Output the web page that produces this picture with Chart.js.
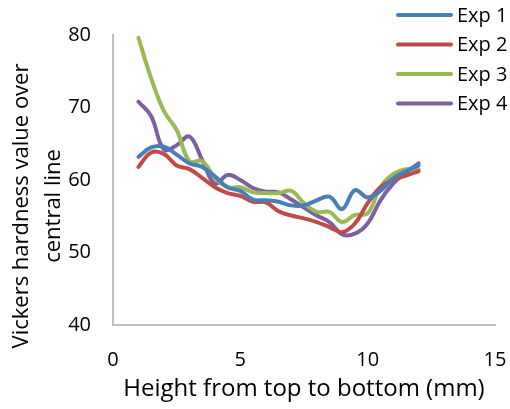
<!DOCTYPE html>
<html>
<head>
<meta charset="utf-8">
<script src="https://cdn.jsdelivr.net/npm/chart.js@4"></script>
<style>
  html, body { margin: 0; padding: 0; background: #fff; }
  #wrap { width: 510px; height: 409px; }
</style>
</head>
<body>
<div id="wrap"><canvas id="chart" width="510" height="409"></canvas></div>
<script>
// heights along the sample (mm), measured every half mm
const heights = [1, 1.5, 2, 2.5, 3, 3.5, 4, 4.5, 5, 5.5, 6, 6.5, 7, 7.5, 8, 8.5, 9, 9.5, 10, 10.5, 11, 11.5, 12]

// hardness readings for each experiment
const exp1 = [63.2, 64.5, 64.6, 63.5, 62.3, 61.8, 60.5, 59.0, 58.5, 57.3, 57.2, 57.0, 56.5, 56.5, 57.2, 57.7, 56.0, 58.6, 57.6, 58.5, 60.2, 61.2, 62.0]
const exp2 = [61.8, 63.8, 63.6, 62.0, 61.5, 60.3, 59.0, 58.2, 57.8, 57.0, 56.9, 55.7, 55.1, 54.7, 54.2, 53.5, 52.8, 54.0, 56.8, 59.0, 60.0, 60.6, 61.2]
const exp3 = [79.6, 74.0, 69.5, 66.9, 62.6, 62.6, 60.3, 59.0, 59.0, 58.3, 58.2, 58.2, 58.5, 56.8, 55.6, 55.6, 54.2, 55.2, 55.4, 59.0, 60.8, 61.5, 61.5]
const exp4 = [70.8, 68.8, 64.2, 64.8, 66.0, 62.8, 59.5, 60.7, 60.0, 58.9, 58.4, 58.3, 57.3, 56.2, 55.1, 54.2, 52.5, 52.6, 54.0, 57.2, 59.5, 61.0, 62.3]

const seriesNames = ["Exp 1", "Exp 2", "Exp 3", "Exp 4"]
const seriesColors = ["#4A7EBB", "#BE4B48", "#98B954", "#7D60A0"]

const xTitle = "Height from top to bottom (mm)"
const yTitle = ["Vickers hardness value over", "central line"]

const FONT = "'Open Sans', sans-serif"

// turn the x list and one y list into {x, y} points
function toPoints(ys){
    return ys.map((v, i) => ({ x: heights[i], y: v }))
}

const datasetArray = [exp1, exp2, exp3, exp4].map((ys, i) => ({
    label: seriesNames[i],
    data: toPoints(ys),
    borderColor: seriesColors[i],
    backgroundColor: seriesColors[i],
    borderWidth: 4,
    borderCapStyle: "round",
    borderJoinStyle: "round",
    pointRadius: 0,
    tension: 0.4,
    fill: false
}))

// legend in the top right corner, partly over the plot
const legendPlugin = {
    id: "cornerLegend",
    afterDraw(chart){
        const ctx = chart.ctx
        ctx.save()
        ctx.font = "20px " + FONT
        ctx.textBaseline = "middle"
        ctx.fillStyle = "#000"
        chart.data.datasets.forEach((ds, i) => {
            const y = 15 + i * 29.5
            ctx.strokeStyle = ds.borderColor
            ctx.lineWidth = 4
            ctx.lineCap = "round"
            ctx.beginPath()
            ctx.moveTo(398, y)
            ctx.lineTo(451, y)
            ctx.stroke()
            ctx.fillText(ds.label, 457, y + 1)
        })
        ctx.restore()
    }
}

// y axis title, two rotated lines left of the tick labels
const yTitlePlugin = {
    id: "yTitle",
    afterDraw(chart){
        const ctx = chart.ctx
        ctx.save()
        ctx.font = "22px " + FONT
        ctx.fillStyle = "#000"
        ctx.textAlign = "center"
        ctx.textBaseline = "middle"
        const xs = [22, 54]
        yTitle.forEach((line, i) => {
            ctx.save()
            ctx.translate(xs[i], 206)
            ctx.rotate(-Math.PI / 2)
            ctx.fillText(line, 0, 0)
            ctx.restore()
        })
        ctx.restore()
    }
}

function chartMake(){
    const ctx = document.getElementById("chart")
    new Chart(ctx, {
        type: "line",
        data: { datasets: datasetArray },
        plugins: [legendPlugin, yTitlePlugin],
        options: {
            responsive: false,
            animation: false,
            layout: { padding: { top: 35, right: 0, left: 0, bottom: 0 } },
            plugins: {
                legend: { display: false },
                tooltip: { enabled: false }
            },
            scales: {
                x: {
                    type: "linear",
                    min: 0,
                    max: 15,
                    ticks: { stepSize: 5, padding: 23, color: "#000", font: { family: FONT, size: 20 }, maxRotation: 0 },
                    grid: { display: false, drawTicks: false },
                    border: { display: true, color: "#BFBFBF", width: 2 },
                    title: { display: true, text: xTitle, color: "#000", font: { family: FONT, size: 24 }, padding: { top: 0, bottom: 5 } },
                    afterFit(scale){
                        scale.height = 84
                        scale.paddingLeft = 0
                        scale.paddingRight = 15
                    }
                },
                y: {
                    min: 40,
                    max: 80,
                    ticks: { stepSize: 10, padding: 22, color: "#000", font: { family: FONT, size: 20 } },
                    grid: { display: false, drawTicks: false },
                    border: { display: true, color: "#BFBFBF", width: 2 },
                    afterFit(scale){ scale.width = 113 }
                }
            }
        }
    })
}

chartMake()
</script>
</body>
</html>
